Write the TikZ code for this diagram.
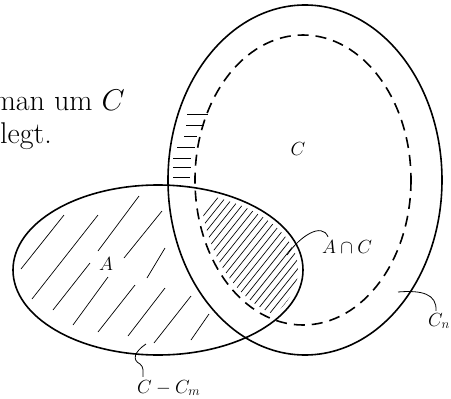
\RequirePackage{fix-cm}
\documentclass[tikz,border=0pt]{standalone}
\usetikzlibrary{calc}
\tikzset{
  outline/.style={line width=1.6pt},
  dashring/.style={line width=1.6pt, dash pattern=on 11pt off 7pt},
  hatch/.style={line width=0.7pt},
  leader/.style={line width=0.8pt},
  lbl/.style={inner sep=0pt, font=\fontsize{19}{23}\selectfont},
  bigtext/.style={inner sep=0pt, font=\fontsize{30}{36}\selectfont}
}
\begin{document}
\begin{tikzpicture}[x=1pt,y=-1pt]
\useasboundingbox (0,0) rectangle (451,399);

% text fragment
\node[bigtext, anchor=base east] (t1) at (125,110) {man um $C$};
\node[bigtext, anchor=base west] (t2) at (0,143) {legt.};

% outlines
\draw[outline] (305,180) ellipse [x radius=137, y radius=175];
\draw[dashring] (303,180) ellipse [x radius=108, y radius=145];
\draw[outline] (158,270) ellipse [x radius=145, y radius=85];

% sparse hatching in A
\foreach \xa/\ya/\xb/\yb in {21/269/64/215, 32/299/98/215, 98/251/139/196,
  53/310/90/263, 73/325/108/277, 124/258/162/211, 147/278/165/248,
  98/332/135/285, 128/336/165/288, 154/343/191/296, 191/340/209/314}
  \draw[hatch] (\xa,\ya) -- (\xb,\yb);

% dense hatching in A cap C
\begin{scope}
  \clip (158,270) ellipse [x radius=140, y radius=80];
  \clip (303,180) ellipse [x radius=103, y radius=140];
  \foreach \i in {0,...,28}
    \draw[hatch] (100+7.6*\i,345) -- ++(124,-155);
\end{scope}

% horizontal hatching in the ring
\foreach \y/\xa/\xb in {114/187/208, 125/186/204, 136/184/197, 147/177/195,
  158/173/191, 167/173/191, 177/173/190}
  \draw[hatch] (\xa,\y) -- (\xb,\y);

% labels
\node[lbl, anchor=base] (lC) at (298,155) {$C$};
\node[lbl, anchor=base] (lA) at (106,270) {$A$};
\node[lbl, anchor=base west] (lAC) at (322,253) {$A\cap C$};
\node[lbl, anchor=base west] (lCn) at (428,326) {$C_n$};
\node[lbl, anchor=base west] (lCm) at (137,393) {$C-C_m$};

% leaders
\coordinate (ac0) at (287,255);
\coordinate (cn0) at (398,292);
\coordinate (cm0) at (146,344);
\draw[leader] (ac0) .. controls (300,236) and (322,222) .. ([shift={(6,-3)}]lAC.north west);
\draw[leader] (cn0) .. controls (422,290) and (437,294) .. ([shift={(8,-2)}]lCn.north west);
\draw[leader] (cm0) .. controls (134,352) and (132,360) .. (140,364)
  .. controls (144,367) and (143,372) .. ([shift={(6,-3)}]lCm.north west);
\end{tikzpicture}
\end{document}
